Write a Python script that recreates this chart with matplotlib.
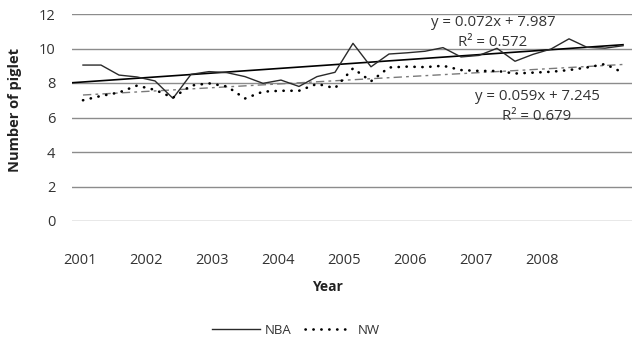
import numpy as np
import matplotlib
matplotlib.use("Agg")
import matplotlib.pyplot as plt

# Quarterly observations (index 1..31) for the two breeds
obs_index = list(range(1, 32))
nba = [9.04, 9.04, 8.46, 8.35, 8.12, 7.11, 8.50, 8.66, 8.60, 8.37,
       7.98, 8.17, 7.80, 8.37, 8.62, 10.30, 8.94, 9.68, 9.75, 9.84,
       10.05, 9.51, 9.60, 10.01, 9.26, 9.66, 9.97, 10.56, 10.07, 10.02,
       10.16]
nw = [7.00, 7.25, 7.45, 7.85, 7.60, 7.15, 7.85, 7.98, 7.80, 7.10,
      7.50, 7.55, 7.55, 7.95, 7.70, 8.85, 8.10, 8.90, 8.95, 8.92,
      9.00, 8.75, 8.70, 8.70, 8.55, 8.60, 8.65, 8.75, 8.90, 9.10,
      8.60]

# Linear trend coefficients (slope, intercept) and R²
nba_fit = (0.072, 7.987, 0.572)
nw_fit = (0.059, 7.245, 0.679)

year_labels = ["2001", "2002", "2003", "2004", "2005", "2006", "2007", "2008"]
y_ticks = [0, 2, 4, 6, 8, 10, 12]

plt.rcParams["font.family"] = ["Open Sans", "DejaVu Sans"]
W, H = 632, 338
fig = plt.figure(figsize=(W / 100, H / 100), dpi=100)
ax = fig.add_axes([72 / W, (H - 221) / H, (W - 72) / W, (221 - 14) / H])

x = np.array(obs_index, dtype=float)
ax.plot(x, nba, color="#2a2a2a", lw=1.0, label="NBA", zorder=3)
ax.plot(x, nw, color="black", lw=1.9, linestyle=(0, (0.1, 2.9)),
        dash_capstyle="round", label="NW", zorder=3)

# trend lines
xl = (0.39, 31.5)
tx = np.array([xl[0], x[-1]])
ax.plot(tx, nba_fit[0] * tx + nba_fit[1], color="black", lw=1.2, zorder=2)
tx2 = np.array([x[0], x[-1]])
ax.plot(tx2, nw_fit[0] * tx2 + nw_fit[1], color="#7a7a7a", lw=1.0,
        linestyle=(0, (6, 3, 2, 3)), zorder=2)

ax.set_xlim(*xl)
ax.set_ylim(0, 12)
ax.set_yticks(y_ticks)
ax.yaxis.grid(True, color="#8c8c8c", lw=1.0)
ax.set_axisbelow(True)
year_pos = [0.83 + 3.67 * k for k in range(len(year_labels))]
ax.set_xticks(year_pos)
ax.set_xticklabels(year_labels)
for s in ax.spines.values():
    s.set_visible(False)
ax.tick_params(axis="both", length=0, labelsize=10.5, colors="#333333")
ax.tick_params(axis="x", pad=23)
ax.tick_params(axis="y", pad=12)

txt = dict(ha="center", va="center", fontsize=10.8, color="#333333")
fig.text(493 / W, 1 - 22 / H,
         f"y = {nba_fit[0]:.3f}x + {nba_fit[1]:.3f}", **txt)
fig.text(493 / W, 1 - 42 / H, f"R² = {nba_fit[2]:.3f}", **txt)
fig.text(537 / W, 1 - 97 / H,
         f"y = {nw_fit[0]:.3f}x + {nw_fit[1]:.3f}", **txt)
fig.text(537 / W, 1 - 117 / H, f"R² = {nw_fit[2]:.3f}", **txt)

fig.text(327 / W, 1 - 287 / H, "Year", ha="center", va="center",
         fontsize=10, fontweight="bold", color="#222222")
fig.text(15 / W, 1 - 110 / H, "Number of piglet", ha="center", va="center",
         rotation=90, fontsize=10.5, fontweight="bold", color="#222222")

leg = fig.legend(loc="center", bbox_to_anchor=(296 / W, 1 - 330 / H),
                 ncol=2, frameon=False, fontsize=9.5, handlelength=3.6,
                 columnspacing=1.0, handletextpad=0.4)
for t in leg.get_texts():
    t.set_color("#333333")

fig.savefig("out.png", dpi=100)
